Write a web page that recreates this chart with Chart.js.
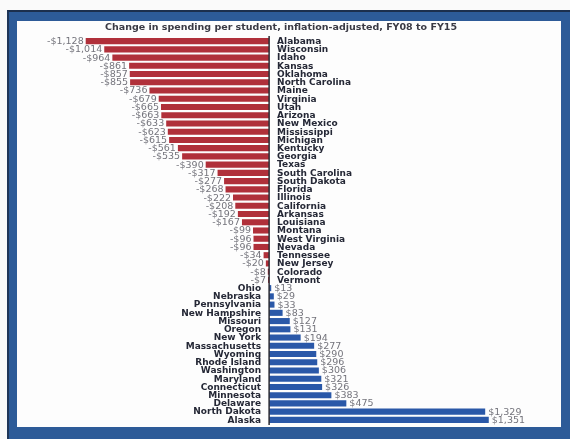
<!DOCTYPE html>
<html>
<head>
<meta charset="utf-8">
<script src="https://cdn.jsdelivr.net/npm/chart.js@4.4.1/dist/chart.umd.min.js"></script>
<style>
  html, body { margin: 0; padding: 0; background: #fafafa; }
  #frame { position: absolute; left: 7px; top: 10px; width: 563px; height: 429px;
           background: #2d5b98; border-top: 2px solid #1c2f4d; border-left: 2px solid #1f3658; box-sizing: border-box; }
  #inner { position: absolute; left: 17px; top: 21px; width: 544px; height: 406px; background: #fdfdfd; }
  #wrap { position: absolute; left: 0; top: 0; width: 570px; height: 439px; }
</style>
</head>
<body>
<div id="frame"></div>
<div id="inner"></div>
<div id="wrap"><canvas id="myChart" width="570" height="439"></canvas></div>
<script>
const states = ["Alabama", "Wisconsin", "Idaho", "Kansas", "Oklahoma", "North Carolina", "Maine",
  "Virginia", "Utah", "Arizona", "New Mexico", "Mississippi", "Michigan", "Kentucky", "Georgia",
  "Texas", "South Carolina", "South Dakota", "Florida", "Illinois", "California", "Arkansas",
  "Louisiana", "Montana", "West Virginia", "Nevada", "Tennessee", "New Jersey", "Colorado", "Vermont",
  "Ohio", "Nebraska", "Pennsylvania", "New Hampshire", "Missouri", "Oregon", "New York",
  "Massachusetts", "Wyoming", "Rhode Island", "Washington", "Maryland", "Connecticut", "Minnesota",
  "Delaware", "North Dakota", "Alaska"];
const change = [-1128, -1014, -964, -861, -857, -855, -736, -679, -665, -663, -633, -623, -615,
  -561, -535, -390, -317, -277, -268, -222, -208, -192, -167, -99, -96, -96, -34, -20, -8, -7,
  13, 29, 33, 83, 127, 131, 194, 277, 290, 296, 306, 321, 326, 383, 475, 1329, 1351];
const title = "Change in spending per student, inflation-adjusted, FY08 to FY15";

const ctx = document.getElementById('myChart').getContext('2d');

function money(v) {
  const s = "$" + Math.abs(v).toLocaleString("en-US");
  return v < 0 ? "-" + s : s;
}

const nameFont = 'bold 9px "DejaVu Sans", sans-serif';
const valueFont = '9.5px "DejaVu Sans", sans-serif';

// title, labels next to bars, state names on the other side of the axis
const barLabels = {
  id: 'barLabels',
  afterDatasetsDraw(chart) {
    const c = chart.ctx;
    const xs = chart.scales.x;
    const zero = xs.getPixelForValue(0);
    const meta = chart.getDatasetMeta(0);
    c.save();
    c.textBaseline = 'middle';
    c.font = 'bold 9.5px "DejaVu Sans", sans-serif';
    c.fillStyle = '#3a3a44';
    c.textAlign = 'center';
    c.fillText(title, 281, 28);

    meta.data.forEach((bar, i) => {
      const v = change[i];
      const y = bar.y + 0.5;
      c.font = nameFont;
      c.fillStyle = '#252836';
      if (v < 0) {
        c.textAlign = 'left';
        c.fillText(states[i], zero + 8, y);
        c.font = valueFont;
        c.fillStyle = '#74747c';
        c.textAlign = 'right';
        c.fillText(money(v), bar.x - 2, y);
      } else {
        c.textAlign = 'right';
        c.fillText(states[i], zero - 8, y);
        c.font = valueFont;
        c.fillStyle = '#74747c';
        c.textAlign = 'left';
        c.fillText(money(v), bar.x + 3, y);
      }
    });
    // zero line
    c.strokeStyle = '#2b2b33';
    c.lineWidth = 1.5;
    c.beginPath();
    c.moveTo(zero, chart.chartArea.top - 1);
    c.lineTo(zero, chart.chartArea.bottom + 1);
    c.stroke();
    c.restore();
  }
};

new Chart(ctx, {
  type: 'bar',
  data: {
    labels: states,
    datasets: [{
      data: change,
      backgroundColor: change.map(v => v < 0 ? '#b0303a' : '#2a58a8'),
      barPercentage: 0.74,
      categoryPercentage: 1
    }]
  },
  options: {
    indexAxis: 'y',
    responsive: false,
    animation: false,
    layout: { padding: { left: 74, right: 57, top: 37, bottom: 15 } },
    plugins: {
      legend: { display: false },
      tooltip: { enabled: false },
      title: { display: false }
    },
    scales: {
      x: { display: false, min: -1200, max: 1500 },
      y: { display: false }
    }
  },
  plugins: [barLabels]
});
</script>
</body>
</html>
